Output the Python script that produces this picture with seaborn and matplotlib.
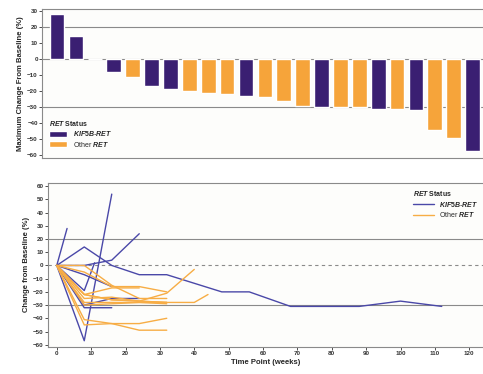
import pandas as pd
import matplotlib.pyplot as plt
import seaborn as sns

# ==========================================
# DATA
# ==========================================

bar_values = [28, 14, 0, -8, -11, -17, -19, -20, -21, -22, -23, -24,
              -26, -29, -30, -30, -30, -31, -31, -32, -44, -49, -57]
bar_status = ["KIF5B-RET", "KIF5B-RET", "Other RET", "KIF5B-RET", "Other RET",
              "KIF5B-RET", "KIF5B-RET", "Other RET", "Other RET", "Other RET",
              "KIF5B-RET", "Other RET", "Other RET", "Other RET", "KIF5B-RET",
              "Other RET", "Other RET", "KIF5B-RET", "Other RET", "KIF5B-RET",
              "Other RET", "Other RET", "KIF5B-RET"]

# spider lines: weeks / change per patient
kif_weeks = [
    [0, 3],
    [0, 8, 16, 24, 32, 48, 56, 68, 88, 100, 112],
    [0, 8, 16],
    [0, 8, 16, 24],
    [0, 8, 16],
    [0, 8, 16, 24],
    [0, 8, 11],
    [0, 8, 16],
]
kif_change = [
    [0, 28],
    [0, 14, 0, -7, -7, -20, -20, -31, -31, -27, -31],
    [0, -57, 54],
    [0, 0, 4, 24],
    [0, -7, -16],
    [0, -30, -25, -25],
    [0, -19, 2],
    [0, -32, -32],
]

other_weeks = [
    [0, 8, 16, 24, 32, 40],
    [0, 8, 16, 32, 40, 44],
    [0, 8, 16, 24, 32],
    [0, 8, 16, 24, 32],
    [0, 8, 16, 24, 32],
    [0, 8, 16, 24, 32],
    [0, 8, 16, 24, 32],
    [0, 8, 16, 24, 32],
    [0, 8, 16, 24, 32],
    [0, 8, 16, 24],
]
other_change = [
    [0, -22, -26, -27, -21, -3],
    [0, -28, -28, -28, -28, -22],
    [0, -41, -44, -44, -40],
    [0, -45, -44, -49, -49],
    [0, -5, -16, -16, -20],
    [0, 0, -15, -25, -25],
    [0, -22, -26, -27, -28],
    [0, -25, -24, -27, -28],
    [0, -30, -29, -28, -29],
    [0, -22, -17, -17],
]

x_ticks = [0, 10, 20, 30, 40, 50, 60, 70, 80, 90, 100, 110, 120]

# ==========================================
# BUILD TABLES
# ==========================================

bars = pd.DataFrame({
    "Patient": [str(i) for i in range(len(bar_values))],
    "Change": bar_values,
    "Status": bar_status
})

rows = []
pid = 0
for weeks, vals in zip(kif_weeks, kif_change):
    for w, v in zip(weeks, vals):
        rows.append({"pid": pid, "Week": w, "Change": v, "Status": "KIF5B-RET"})
    pid += 1
for weeks, vals in zip(other_weeks, other_change):
    for w, v in zip(weeks, vals):
        rows.append({"pid": pid, "Week": w, "Change": v, "Status": "Other RET"})
    pid += 1
lines = pd.DataFrame(rows)

# ==========================================
# STYLE
# ==========================================

sns.set_style("white")
plt.rcParams["font.family"] = ["Liberation Sans", "DejaVu Sans"]
plt.rcParams["mathtext.fontset"] = "custom"
plt.rcParams["mathtext.it"] = "Liberation Sans:italic:bold"
plt.rcParams["mathtext.rm"] = "Liberation Sans:bold"

bar_pal = {"KIF5B-RET": "#3a1f72", "Other RET": "#f6a43a"}
line_pal = {"KIF5B-RET": "#4a48a8", "Other RET": "#f7ad45"}
bg = "#fdfdfb"
grey = "#8a8a8a"

fig = plt.figure(figsize=(4.83, 3.74), dpi=100, facecolor="white")
ax1 = fig.add_axes([0.087, 0.578, 0.913, 0.398])
ax2 = fig.add_axes([0.099, 0.073, 0.901, 0.438])

# ==========================================
# WATERFALL
# ==========================================

sns.barplot(
    data=bars,
    x="Patient",
    y="Change",
    hue="Status",
    palette=bar_pal,
    saturation=1,
    dodge=False,
    width=0.78,
    ax=ax1
)

for yv in [20, -30, 0]:
    ax1.axhline(yv, color=grey, lw=0.8, zorder=0)

ax1.set_xlim(-0.8, 22.55)
ax1.set_ylim(-61.5, 31)
ax1.set_yticks(range(-60, 31, 10))
ax1.set_xticks([])
ax1.set_xlabel("")
ax1.set_ylabel("Maximum Change From Baseline (%)", fontsize=5.5,
               fontweight="bold", labelpad=2)
ax1.tick_params(axis="y", labelsize=4.5, length=2, width=0.6, pad=1,
                left=True, colors="#333333")
for lab in ax1.get_yticklabels():
    lab.set_fontweight("bold")
ax1.set_facecolor(bg)
for side in ["top", "left", "bottom"]:
    ax1.spines[side].set_color(grey)
    ax1.spines[side].set_linewidth(0.8)
ax1.spines["right"].set_visible(False)

h, l = ax1.get_legend_handles_labels()
leg1 = ax1.legend(
    h, [r"$\it{KIF5B}$-$\it{RET}$", r"Other $\it{RET}$"],
    title=r"$\it{RET}$ Status",
    loc="lower left",
    bbox_to_anchor=(0.005, 0.03),
    fontsize=5,
    title_fontsize=5,
    frameon=False,
    handlelength=2.6,
    handleheight=1.0,
    labelspacing=0.2,
    borderaxespad=0.3
)
leg1._legend_box.align = "left"
leg1.get_title().set_fontweight("bold")

# ==========================================
# SPIDER PLOT
# ==========================================

sns.lineplot(
    data=lines,
    x="Week",
    y="Change",
    hue="Status",
    units="pid",
    estimator=None,
    palette=line_pal,
    lw=1.0,
    ax=ax2
)

for yv in [20, -30]:
    ax2.axhline(yv, color=grey, lw=0.8, zorder=0)
ax2.axhline(0, color=grey, lw=0.8, ls=(0, (3, 3)), zorder=0)

ax2.set_xlim(-2.6, 124)
ax2.set_ylim(-61.5, 62.5)
ax2.set_xticks(x_ticks)
ax2.set_yticks(range(-60, 61, 10))
ax2.set_xlabel("Time Point (weeks)", fontsize=5.5, fontweight="bold", labelpad=2)
ax2.set_ylabel("Change from Baseline (%)", fontsize=5.5, fontweight="bold",
               labelpad=2)
ax2.tick_params(labelsize=4.5, length=2, width=0.6, pad=1,
                left=True, bottom=True, colors="#333333")
for lab in ax2.get_xticklabels() + ax2.get_yticklabels():
    lab.set_fontweight("bold")
ax2.set_facecolor(bg)
for side in ["top", "left", "bottom"]:
    ax2.spines[side].set_color(grey)
    ax2.spines[side].set_linewidth(0.8)
ax2.spines["right"].set_visible(False)

h, l = ax2.get_legend_handles_labels()
leg2 = ax2.legend(
    h, [r"$\it{KIF5B}$-$\it{RET}$", r"Other $\it{RET}$"],
    title=r"$\it{RET}$ Status",
    loc="upper right",
    bbox_to_anchor=(1.0, 0.99),
    fontsize=5,
    title_fontsize=5,
    frameon=False,
    handlelength=3.0,
    labelspacing=0.2,
    borderaxespad=0.3
)
leg2._legend_box.align = "left"
leg2.get_title().set_fontweight("bold")

plt.savefig("out.png", dpi=100, facecolor="white")
